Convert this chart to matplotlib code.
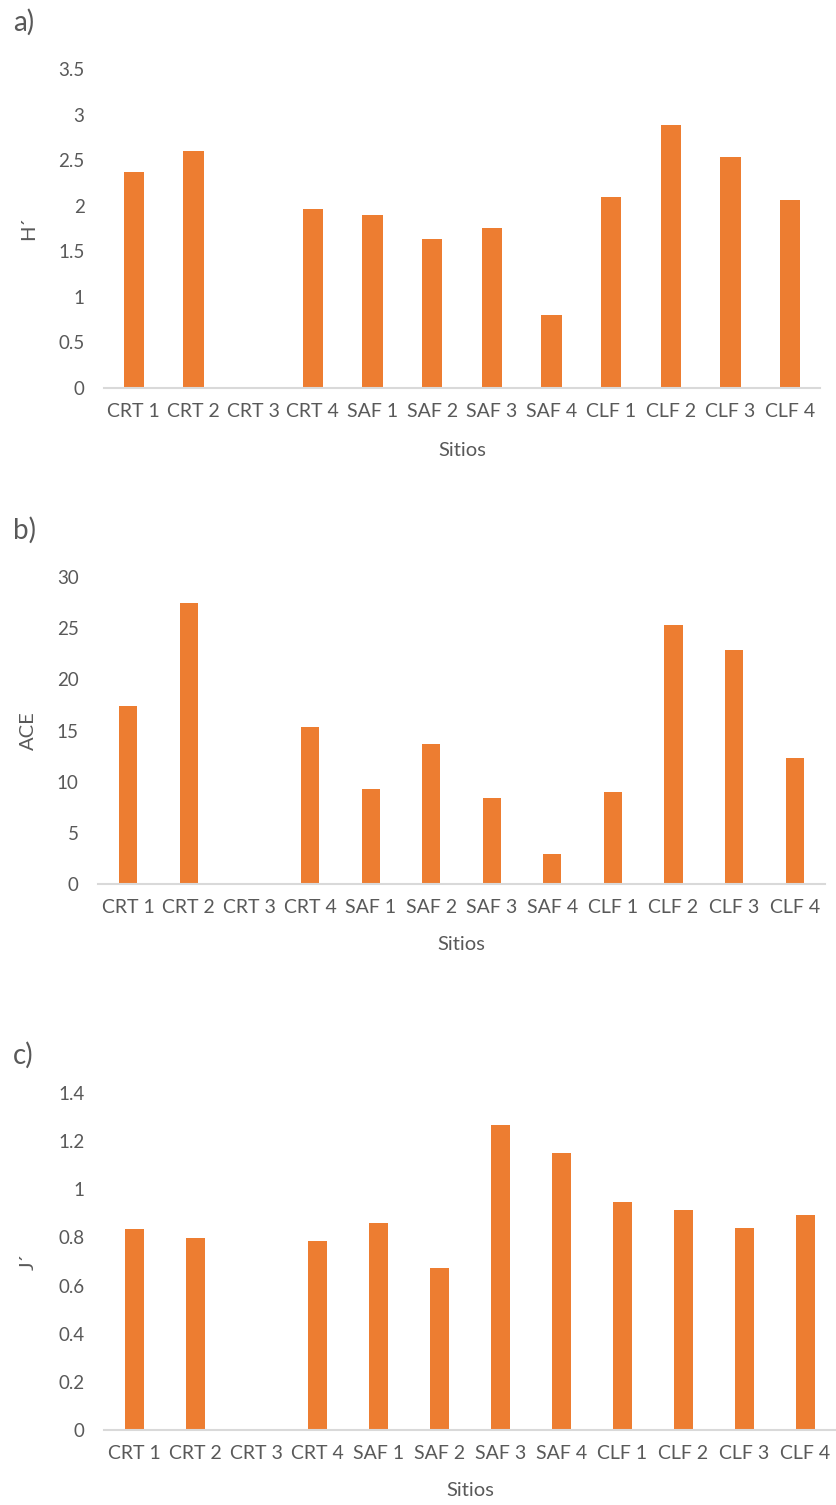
import numpy as np
import matplotlib
matplotlib.use("Agg")
import matplotlib.pyplot as plt

plt.rcParams['font.family'] = ['Lato', 'DejaVu Sans']

sitios = ["CRT 1", "CRT 2", "CRT 3", "CRT 4", "SAF 1", "SAF 2",
          "SAF 3", "SAF 4", "CLF 1", "CLF 2", "CLF 3", "CLF 4"]

shannon_h = [2.37, 2.60, 0.0, 1.96, 1.90, 1.64, 1.76, 0.80, 2.10, 2.89, 2.53, 2.06]
ace = [17.35, 27.43, 0.0, 15.31, 9.29, 13.71, 8.45, 2.96, 8.97, 25.32, 22.85, 12.32]
pielou_j = [0.833, 0.796, 0.0, 0.785, 0.861, 0.674, 1.266, 1.151, 0.948, 0.915, 0.839, 0.893]

BAR = "#ED7D31"
TXT = "#595959"
AXL = "#D9D9D9"

W, H = 836, 1505
fig = plt.figure(figsize=(W / 100, H / 100), dpi=100)


def panel(box, values, ymax, ystep, ylabel, letter, letter_y, width, xlab_off):
    # box is (left, top, right, bottom) in pixels from the top-left corner
    l, t, r, b = box
    ax = fig.add_axes([l / W, 1 - b / H, (r - l) / W, (b - t) / H])
    x = np.arange(len(sitios))
    ax.bar(x, values, width=width, color=BAR, zorder=2)
    ax.set_xlim(-0.5, len(sitios) - 0.5)
    ax.set_ylim(0, ymax)
    ticks = np.arange(0, ymax + ystep / 2, ystep)
    ax.set_yticks(ticks)
    ax.set_yticklabels(["%g" % round(v, 2) for v in ticks])
    ax.set_xticks(x)
    ax.set_xticklabels(sitios)
    for s in ["top", "right", "left"]:
        ax.spines[s].set_visible(False)
    ax.spines["bottom"].set_color(AXL)
    ax.spines["bottom"].set_linewidth(1.5)
    ax.tick_params(axis="both", length=0, labelcolor=TXT)
    ax.tick_params(axis="x", pad=11, labelsize=14)
    ax.tick_params(axis="y", pad=14, labelsize=13.5)
    ax.set_xlabel("Sitios", fontsize=14.5, color=TXT)
    ax.xaxis.set_label_coords(0.5, -xlab_off / (b - t))
    ax.set_ylabel(ylabel, fontsize=14.5, color=TXT)
    ax.yaxis.set_label_coords(-(l - 37) / (r - l), 0.5)
    fig.text(13 / W, 1 - letter_y / H, letter, fontsize=20, color=TXT,
             ha="left", va="center")
    return ax


panel((104, 69, 820, 388), shannon_h, 3.5, 0.5, "H´", "a)", 22, 0.34, 54)
panel((98, 577, 825, 884), ace, 30, 5, "ACE", "b)", 530, 0.30, 52)
panel((104, 1093, 836, 1430), pielou_j, 1.4, 0.2, "J´", "c)", 1055, 0.32, 52)

fig.savefig("out.png", dpi=100, facecolor="white")
